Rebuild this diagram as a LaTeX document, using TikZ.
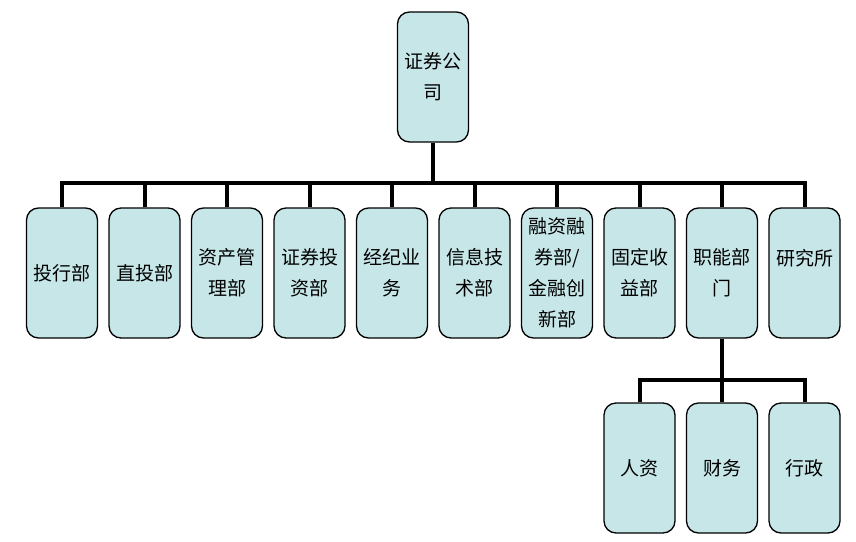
\documentclass[tikz,border=0pt]{standalone}
\usepackage{fontspec}
\newfontfamily\cjk{Noto Sans CJK SC}
\definecolor{boxfill}{RGB}{198,230,232}
\tikzset{
  dept/.style={draw=black,line width=1.3pt,rounded corners=12pt,fill=boxfill,
    minimum width=71pt,minimum height=130pt,inner sep=0pt,align=center,
    font=\cjk\fontsize{19}{31}\selectfont},
  conn/.style={draw=black,line width=4pt,line join=miter}
}
\begin{document}
\begin{tikzpicture}[x=1pt,y=-1pt]
\useasboundingbox (0,0) rectangle (856,541);
\node[dept] (gs) at (433,77) {证券公\\司};
\foreach \t [count=\i] in {{投行部},{直投部},{资产管\\理部},{证券投\\资部},{经纪业\\务},{信息技\\术部},{融资融\\券部/\\金融创\\新部},{固定收\\益部},{职能部\\门},{研究所\\~}}
  \node[dept] (c\i) at ({62+82.5*(\i-1)},273) {\t};
\node[dept] (b1) at (639.5,468) {人资};
\node[dept] (b2) at (722,468) {财务};
\node[dept] (b3) at (804.5,468) {行政};
\coordinate (bus1) at (433,183);
\coordinate (bus2) at (722,380);
\draw[conn] (gs.south) -- (gs.south |- bus1);
\draw[conn] (c1.north) |- (bus1) -| (c10.north);
\foreach \i in {2,...,9}
  \draw[conn] (c\i.north) -- (c\i.north |- bus1);
\draw[conn] (c9.south) -- (b2.north);
\draw[conn] (b1.north) |- (bus2) -| (b3.north);
\end{tikzpicture}
\end{document}
